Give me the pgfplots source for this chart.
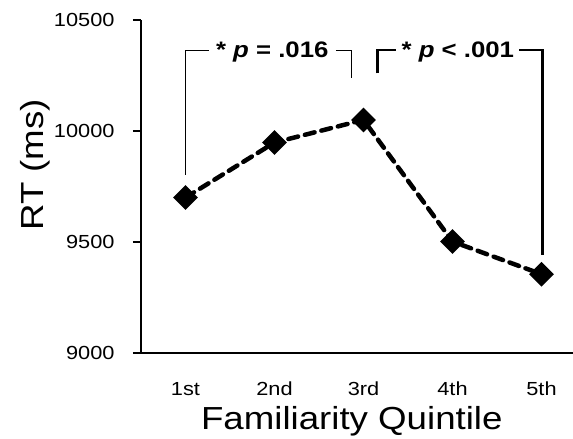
\documentclass[border=0pt]{standalone}
\usepackage{pgfplots}
\pgfplotsset{compat=1.18}
\usepackage{fontspec}
\setmainfont{Liberation Sans}[FakeStretch=1.15]
\begin{document}
\begin{tikzpicture}
\path[use as bounding box] (-141bp,-86bp) rectangle (432bp,353bp);
\begin{axis}[
  scale only axis,
  width=432bp, height=333bp,
  xmin=-0.5, xmax=4.354,
  ymin=9000, ymax=10500,
  axis x line=bottom, axis y line=left,
  axis line style={-, line width=1.8bp},
  tick style={line width=1.8bp, black},
  tick align=outside,
  scaled y ticks=false,
  /pgf/number format/assume math mode=true,
  /pgf/number format/1000 sep={},
  ytick={9000,9500,10000,10500},
  major tick length=8bp,
  xtick={0,1,2,3,4},
  xticklabels={1st,2nd,3rd,4th,5th},
  x tick style={draw=none},
  extra x ticks={-0.5,0.5,1.5,2.5,3.5},
  extra x tick labels={},
  extra x tick style={tick style={line width=1.8bp, black, draw=black}, major tick length=7bp},
  tick label style={font=\fontsize{19}{22}\selectfont},
  xticklabel style={anchor=base, yshift=-34bp},
  yticklabel style={anchor=east, xshift=-15bp},
  xlabel={Familiarity Quintile},
  ylabel={RT (ms)},
  label style={font=\fontsize{32}{36}\selectfont},
  xlabel style={at={(axis description cs:0.488,0)}, anchor=center, yshift=-68bp},
  ylabel style={at={(axis description cs:-0.245,0.565)}, anchor=center},
  clip=false,
]
\addplot[black, line width=4.5bp, dash pattern=on 10bp off 7bp, line cap=round,
  mark=square*, mark size=6.5bp, mark options={solid, rotate=45, fill=black}]
  coordinates {(0,9700) (1,9948) (2,10050) (3,9502) (4,9355)};
% significance brackets
\draw[black, line width=1bp] (axis cs:0,9804) -- (axis cs:0,10364) -- (axis cs:0.26,10364);
\draw[black, line width=1bp] (axis cs:1.69,10364) -- (axis cs:1.87,10364) -- (axis cs:1.87,10238);
\node[font=\fontsize{22.5}{26}\selectfont\bfseries] at (axis cs:0.975,10356) {* \textit{p} = .016};
\draw[black, line width=2.5bp] (axis cs:2.16,10260) -- (axis cs:2.16,10364) -- (axis cs:2.37,10364);
\draw[black, line width=2.5bp] (axis cs:3.75,10364) -- (axis cs:4.01,10364) -- (axis cs:4.01,9443);
\node[font=\fontsize{22.5}{26}\selectfont\bfseries] at (axis cs:3.06,10356) {* \textit{p} < .001};
\end{axis}
\end{tikzpicture}
\end{document}
